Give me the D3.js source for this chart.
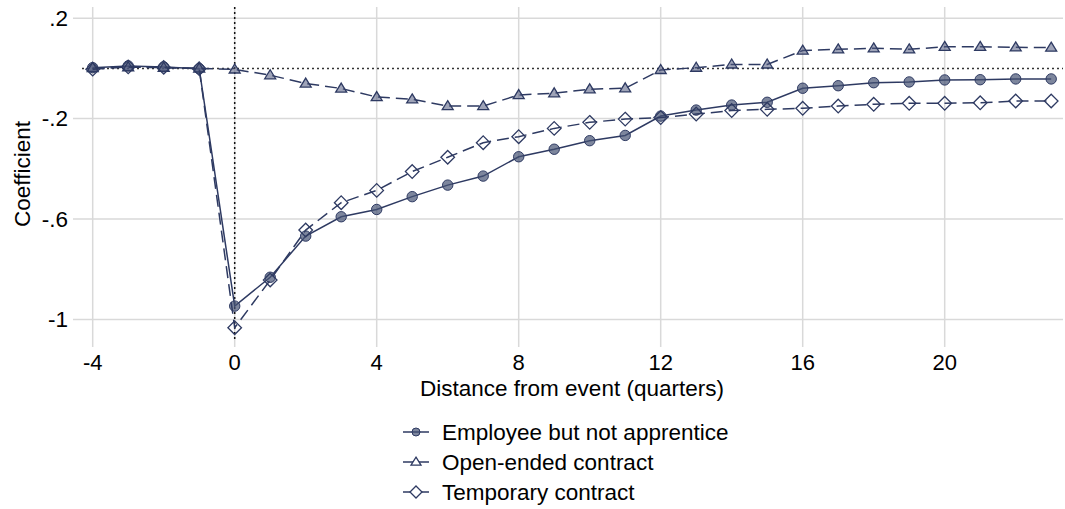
<!DOCTYPE html>
<html>
<head>
<meta charset="utf-8">
<script src="https://cdn.jsdelivr.net/npm/d3@7"></script>
<style>
  body { margin: 0; background: #fff; }
  svg { display: block; }
  text { font-family: "Liberation Sans", Arial, sans-serif; fill: #000; }
</style>
</head>
<body>
<svg id="chart" width="1065" height="509"></svg>
<script>
// ---- data ----
const quarters = [-4,-3,-2,-1,0,1,2,3,4,5,6,7,8,9,10,11,12,13,14,15,16,17,18,19,20,21,22,23];
const employee = [0.003,0.010,0.006,-0.001,-0.947,-0.832,-0.668,-0.591,-0.562,-0.511,-0.465,-0.429,-0.352,-0.322,-0.288,-0.267,-0.190,-0.166,-0.146,-0.135,-0.079,-0.069,-0.057,-0.054,-0.046,-0.045,-0.042,-0.042];
const openEnded = [0.002,0.005,0.003,0.000,-0.004,-0.027,-0.060,-0.080,-0.114,-0.123,-0.150,-0.150,-0.106,-0.099,-0.083,-0.079,-0.006,0.003,0.016,0.016,0.071,0.076,0.080,0.076,0.086,0.086,0.084,0.083];
const temporary = [-0.003,0.006,0.004,-0.001,-1.033,-0.843,-0.644,-0.535,-0.486,-0.411,-0.354,-0.296,-0.272,-0.239,-0.215,-0.202,-0.196,-0.182,-0.168,-0.163,-0.159,-0.150,-0.143,-0.139,-0.139,-0.137,-0.130,-0.130];
const xTicks = [-4,0,4,8,12,16,20];
const yTicks = [0.2,-0.2,-0.6,-1];
const seriesNames = ["Employee but not apprentice","Open-ended contract","Temporary contract"];
const xTitle = "Distance from event (quarters)";
const yTitle = "Coefficient";

// ---- setup ----
const svg = d3.select("#chart");
const x = d3.scaleLinear().domain([-4, 23]).range([92.7, 1051.2]);
const y = d3.scaleLinear().domain([0.2, -1]).range([18.2, 319.4]);
const plotTop = 7, plotBottom = 347, plotLeft = 73, plotRight = 1063;
const navy = "#2e3a62";
const grid = "#d9d9d9";
const fs = 22.5;

// gridlines
svg.append("g").selectAll("line").data(yTicks).join("line")
  .attr("x1", plotLeft).attr("x2", plotRight)
  .attr("y1", d => y(d)).attr("y2", d => y(d))
  .attr("stroke", grid).attr("stroke-width", 1.5);
svg.append("g").selectAll("line").data(xTicks).join("line")
  .attr("x1", d => x(d)).attr("x2", d => x(d))
  .attr("y1", plotTop).attr("y2", plotBottom)
  .attr("stroke", grid).attr("stroke-width", 1.5);

// reference lines
svg.append("line").attr("x1", 82).attr("x2", plotRight)
  .attr("y1", y(0)).attr("y2", y(0))
  .attr("stroke", "#333").attr("stroke-width", 1.5).attr("stroke-dasharray", "2,3");
svg.append("line").attr("x1", x(0)).attr("x2", x(0))
  .attr("y1", plotTop).attr("y2", 341)
  .attr("stroke", "#111").attr("stroke-width", 1.5).attr("stroke-dasharray", "2,3");

// axis labels
const fmt = v => d3.format("~g")(v).replace("\u2212", "-").replace(/^(-?)0\./, "$1.");
svg.append("g").selectAll("text").data(yTicks).join("text")
  .attr("x", 68).attr("y", d => y(d)).attr("dy", "0.35em")
  .attr("text-anchor", "end").attr("font-size", fs).text(fmt);
svg.append("g").selectAll("text").data(xTicks).join("text")
  .attr("x", d => x(d)).attr("y", 362).attr("dy", "0.35em")
  .attr("text-anchor", "middle").attr("font-size", 22).text(fmt);
svg.append("text").attr("x", 572).attr("y", 388.5).attr("dy", "0.35em")
  .attr("text-anchor", "middle").attr("font-size", fs).text(xTitle);
svg.append("text").attr("transform", "translate(22,174) rotate(-90)")
  .attr("dy", "0.35em").attr("text-anchor", "middle").attr("font-size", fs).text(yTitle);

// series
const series = [
  { name: seriesNames[0], vals: employee, dash: null, marker: "circle" },
  { name: seriesNames[1], vals: openEnded, dash: "12,6", marker: "triangle" },
  { name: seriesNames[2], vals: temporary, dash: "12,6", marker: "diamond" }
];
const line = d3.line().x(d => x(d[0])).y(d => y(d[1]));

function drawMarker(g, type, cx, cy, inLegend) {
  if (type === "circle") {
    g.append("circle").attr("cx", cx).attr("cy", cy).attr("r", inLegend ? 4 : 5.2)
      .attr("fill", "rgba(70,82,115,0.7)").attr("stroke", navy).attr("stroke-width", 1);
  } else if (type === "triangle") {
    const w = inLegend ? 5 : 5.5;
    const h = inLegend ? 8 : 9;
    g.append("path").attr("d", `M${cx},${cy - h * 0.6}L${cx + w},${cy + h * 0.4}L${cx - w},${cy + h * 0.4}Z`)
      .attr("fill", inLegend ? "#fff" : "rgba(80,90,125,0.55)").attr("stroke", navy).attr("stroke-width", 1.3);
  } else {
    const r = inLegend ? 6 : 6.8;
    g.append("path").attr("d", `M${cx},${cy - r}L${cx + r},${cy}L${cx},${cy + r}L${cx - r},${cy}Z`)
      .attr("fill", inLegend ? "#fff" : "none").attr("stroke", navy).attr("stroke-width", 1.3);
  }
}

series.forEach(s => {
  const pts = quarters.map((q, i) => [q, s.vals[i]]);
  const g = svg.append("g");
  g.append("path").attr("d", line(pts)).attr("fill", "none")
    .attr("stroke", navy).attr("stroke-width", 1.5)
    .attr("stroke-dasharray", s.dash);
  pts.forEach(p => drawMarker(g, s.marker, x(p[0]), y(p[1]), false));
});

// legend
series.forEach((s, i) => {
  const ly = 432 + i * 30;
  const g = svg.append("g");
  g.append("line").attr("x1", 403).attr("x2", 429).attr("y1", ly).attr("y2", ly)
    .attr("stroke", navy).attr("stroke-width", 1.5);
  drawMarker(g, s.marker, 416, ly, true);
  g.append("text").attr("x", 442).attr("y", ly).attr("dy", "0.35em")
    .attr("font-size", fs).text(s.name);
});
</script>
</body>
</html>
